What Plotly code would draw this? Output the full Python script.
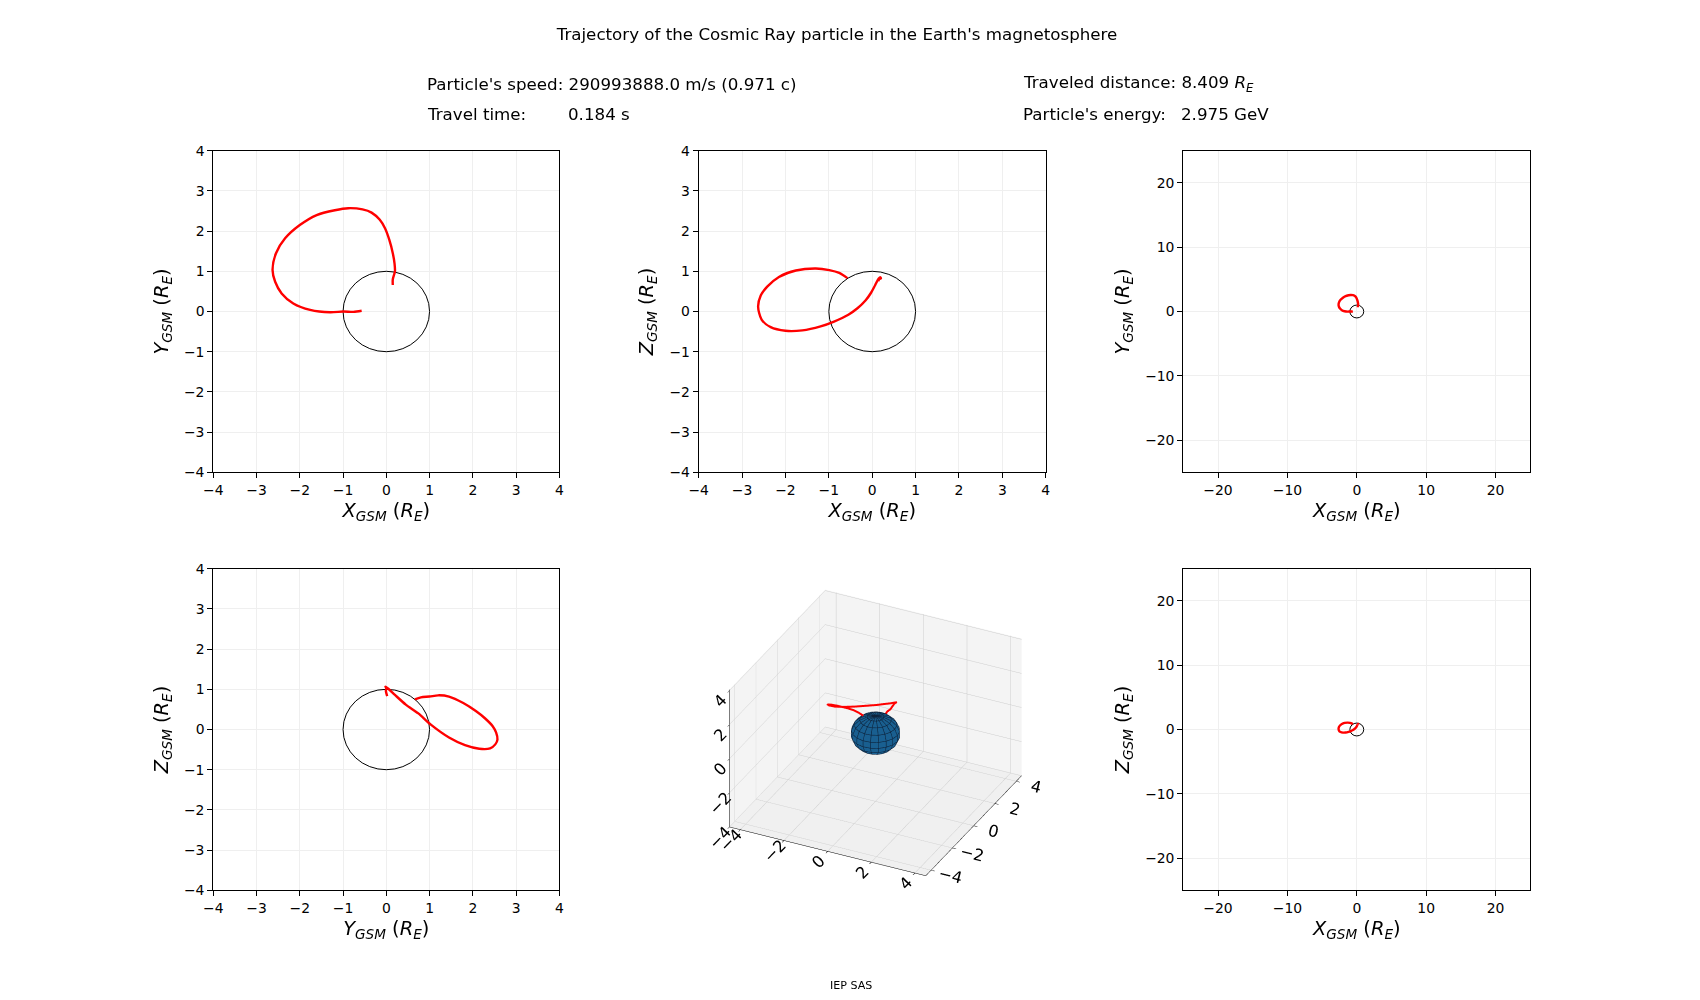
import numpy as np
import plotly.graph_objects as go

# ---------------- data ----------------
traj_x = [0.15, 0.15, 0.20, 0.19, 0.15, 0.07, -0.03, -0.15, -0.34, -0.55, -0.88, -1.19, -1.61,
          -2.00, -2.34, -2.55, -2.63, -2.57, -2.42, -2.15, -1.76, -1.30, -0.99, -0.76, -0.57]
traj_y = [0.66, 0.80, 1.00, 1.20, 1.45, 1.78, 2.07, 2.28, 2.46, 2.54, 2.57, 2.52, 2.40,
          2.15, 1.82, 1.45, 1.03, 0.74, 0.45, 0.20, 0.04, -0.02, 0.00, -0.01, 0.02]
traj_z = [0.75, 0.80, 0.82, 0.85, 0.82, 0.66, 0.46, 0.28, 0.08, -0.08, -0.25, -0.37, -0.47,
          -0.48, -0.39, -0.20, 0.12, 0.40, 0.62, 0.86, 1.02, 1.07, 1.03, 0.96, 0.83]

near_ticks = [-4, -3, -2, -1, 0, 1, 2, 3, 4]
far_ticks = [-20, -10, 0, 10, 20]
cube_ticks = [-4, -2, 0, 2, 4]
earth_radius = 1.0

title_text = "Trajectory of the Cosmic Ray particle in the Earth's magnetosphere"
speed_text = "Particle's speed: 290993888.0 m/s (0.971 c)"
time_label, time_value = "Travel time:", "0.184 s"
dist_text = "Traveled distance: 8.409 <i>R</i><sub><i>E</i></sub>"
energy_label, energy_value = "Particle's energy:", "2.975 GeV"
footer_text = "IEP SAS"

FONT = "DejaVu Sans"
W, H = 1700, 1000
OFF = 8  # page offset of the plot div


def fx(px):
    return (px - OFF) / W


def fy(py):
    return 1 - (py - OFF) / H


def lbl(a):
    return f"<i>{a}</i><sub><i>GSM</i></sub> (<i>R</i><sub><i>E</i></sub>)"


fig = go.Figure()

panels = [
    ("", traj_x, traj_y, "X", "Y", 4, near_ticks, (213.3, 559.3, 150.7, 472.3)),
    ("2", traj_x, traj_z, "X", "Z", 4, near_ticks, (698.7, 1045.7, 150.7, 472.3)),
    ("3", traj_x, traj_y, "X", "Y", 25, far_ticks, (1183.3, 1530.3, 150.7, 472.3)),
    ("4", traj_y, traj_z, "Y", "Z", 4, near_ticks, (213.3, 559.3, 568.7, 890.3)),
    ("5", traj_x, traj_z, "X", "Z", 25, far_ticks, (1183.3, 1530.3, 568.7, 890.3)),
]

shapes = []
axis_common = dict(
    showline=True, linecolor="black", linewidth=1.1, mirror=True,
    ticks="outside", ticklen=5, tickwidth=1.1, tickcolor="black",
    showgrid=True, gridcolor="#efefef", gridwidth=1, zeroline=False, automargin=False,
    tickfont=dict(family=FONT, size=13.9, color="black"),
)
for suf, hx, vy, hl, vl, lim, ticks, (l, r, t, b) in panels:
    fig.add_trace(go.Scatter(
        x=hx, y=vy, mode="lines", line=dict(color="red", width=2.4, shape="spline", smoothing=0.8),
        xaxis="x" + suf, yaxis="y" + suf, showlegend=False, hoverinfo="skip"))
    shapes.append(dict(type="circle", xref="x" + suf, yref="y" + suf,
                       x0=-earth_radius, x1=earth_radius, y0=-earth_radius, y1=earth_radius,
                       line=dict(color="black", width=1), layer="between"))
    xa = dict(axis_common, domain=[fx(l), fx(r)], range=[-lim, lim], tickvals=ticks,
              anchor="y" + suf,
              title=dict(text=lbl(hl), font=dict(family=FONT, size=19.4, color="black"), standoff=6))
    ya = dict(axis_common, domain=[fy(b), fy(t)], range=[-lim, lim], tickvals=ticks,
              anchor="x" + suf,
              title=dict(text=lbl(vl), font=dict(family=FONT, size=19.4, color="black"), standoff=10))
    fig.update_layout(**{"xaxis" + suf: xa, "yaxis" + suf: ya})

# ---------------- 3D panel ----------------
u = np.linspace(0, 2 * np.pi, 20)
v = np.linspace(0, np.pi, 10)
sx = earth_radius * np.outer(np.cos(u), np.sin(v))
sy = earth_radius * np.outer(np.sin(u), np.sin(v))
sz = earth_radius * np.outer(np.ones_like(u), np.cos(v))
fig.add_trace(go.Surface(
    x=sx, y=sy, z=sz, colorscale=[[0, "#1f77b4"], [1, "#1f77b4"]], showscale=False,
    lighting=dict(ambient=0.8, diffuse=0.45, specular=0.0, roughness=1.0, fresnel=0.0),
    lightposition=dict(x=-1000, y=-1000, z=3000),
    hoverinfo="skip", scene="scene"))
ex, ey, ez = [], [], []
k = 1.015
for i in range(len(u)):
    ex += list(k * sx[i]) + [None]
    ey += list(k * sy[i]) + [None]
    ez += list(k * sz[i]) + [None]
for j in range(len(v)):
    ex += list(k * sx[:, j]) + [None]
    ey += list(k * sy[:, j]) + [None]
    ez += list(k * sz[:, j]) + [None]
fig.add_trace(go.Scatter3d(x=ex, y=ey, z=ez, mode="lines",
                           line=dict(color="rgb(12,35,60)", width=1.2),
                           showlegend=False, hoverinfo="skip", scene="scene"))
fig.add_trace(go.Scatter3d(x=traj_x, y=traj_y, z=traj_z, mode="lines",
                           line=dict(color="red", width=4),
                           showlegend=False, hoverinfo="skip", scene="scene"))

ax3 = dict(range=[-4.5, 4.5], tickvals=cube_ticks, showbackground=True,
           backgroundcolor="rgb(244,244,244)", gridcolor="rgb(205,205,205)", gridwidth=1,
           showline=True, linecolor="black", linewidth=1, zeroline=False,
           ticks="outside", ticklen=4, tickcolor="black",
           title=dict(text=""), showspikes=False,
           tickfont=dict(family=FONT, size=13.9, color="black"))
elev, azim = np.deg2rad(30), np.deg2rad(-64)
dist = 1.6
s3 = 1.15  # orthographic zoom is carried by the aspect ratio
fig.update_layout(scene=dict(
    domain=dict(x=[0.392, 0.629], y=[0.082, 0.462]),
    xaxis=ax3, yaxis=ax3,
    zaxis=dict(ax3, range=[-4, 4.05], backgroundcolor="rgb(240,240,240)"),
    aspectmode="manual", aspectratio=dict(x=s3, y=s3, z=0.73 * s3),
    camera=dict(eye=dict(x=dist * np.cos(elev) * np.cos(azim),
                         y=dist * np.cos(elev) * np.sin(azim),
                         z=dist * np.sin(elev)),
                center=dict(x=0, y=0, z=-0.02),
                projection=dict(type="orthographic")),
))

# ---------------- texts ----------------
ann = []
def add_text(text, px, py, size, anchor="left"):
    ann.append(dict(text=text, x=fx(px), y=fy(py), xref="paper", yref="paper",
                    xanchor=anchor, yanchor="middle", showarrow=False,
                    font=dict(family=FONT, size=size, color="black")))

add_text(speed_text, 425, 83.5, 16.7)
add_text(time_label, 425, 114, 16.7)
add_text(time_value, 566, 114, 16.7)
add_text(dist_text, 1021, 83.5, 16.7)
add_text(energy_label, 1021, 114, 16.7)
add_text(energy_value, 1179, 114, 16.7)
add_text(footer_text, 851, 985, 11.1, anchor="center")

fig.update_layout(
    width=W, height=H, margin=dict(l=0, r=0, t=0, b=0, autoexpand=False),
    paper_bgcolor="white", plot_bgcolor="white",
    title=dict(text=title_text, x=fx(837), xanchor="center", y=fy(34), yanchor="middle",
               font=dict(family=FONT, size=16.7, color="black")),
    shapes=shapes, annotations=ann, showlegend=False,
)

fig.write_html("out.html")
